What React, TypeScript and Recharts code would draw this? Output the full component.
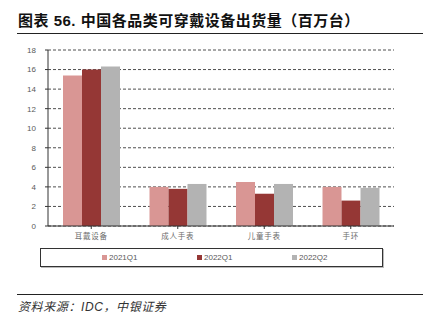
// Bar chart: China wearable shipments by category (million units).
// Flat Excel-style look: dashed black gridlines, boxed legend, CJK labels.
import { Bar, BarChart, CartesianGrid, XAxis, YAxis } from "recharts";

const CATEGORIES = ["耳戴设备", "成人手表", "儿童手表", "手环"];
const Q1_2021 = [15.4, 4.0, 4.5, 4.0];
const Q1_2022 = [16.0, 3.8, 3.3, 2.6];
const Q2_2022 = [16.3, 4.3, 4.3, 3.9];
const SERIES_NAMES = ["2021Q1", "2022Q1", "2022Q2"];
const Y_TICKS = [0, 2, 4, 6, 8, 10, 12, 14, 16, 18];

const COLORS = ["#D99694", "#953735", "#B3B3B3"];
const FONT = "'Liberation Sans', 'Noto Sans CJK SC', sans-serif";
const TICK_GREY = "#595959";

const rows = CATEGORIES.map((name, i) => ({
  name,
  a: Q1_2021[i],
  b: Q1_2022[i],
  c: Q2_2022[i],
}));

export default function App() {
  return (
    <div style={{ position: "relative", width: 431, height: 314, background: "#fff", fontFamily: FONT }}>
      <style>{`body{margin:0}`}</style>

      {/* title + rule */}
      <div style={{ position: "absolute", left: 18, top: 9, fontSize: 15, fontWeight: 700, color: "#111", letterSpacing: 0.5, whiteSpace: "nowrap" }}>
        图表 56. 中国各品类可穿戴设备出货量（百万台）
      </div>
      <div style={{ position: "absolute", left: 17, top: 33, width: 406, height: 1, background: "#222" }} />

      <div style={{ position: "absolute", left: 0, top: 0 }}>
        <BarChart
          width={431}
          height={314}
          data={rows}
          margin={{ top: 50, right: 37, bottom: 68, left: 8 }}
          barGap={0}
          barSize={19}
        >
          <CartesianGrid vertical={false} stroke="#222" strokeDasharray="3 2" strokeWidth={0.8} />
          <XAxis
            dataKey="name"
            height={20}
            stroke="#333"
            tickSize={3}
            tickMargin={5}
            tick={{ fill: "#6b6b6b", fontSize: 7.5, letterSpacing: 0.8 }}
            interval={0}
          />
          <YAxis
            width={40}
            domain={[0, 18]}
            ticks={Y_TICKS}
            stroke="#333"
            tickSize={3}
            tickMargin={9}
            tick={{ fill: TICK_GREY, fontSize: 8 }}
            interval={0}
          />
          <Bar dataKey="a" name={SERIES_NAMES[0]} fill={COLORS[0]} isAnimationActive={false} />
          <Bar dataKey="b" name={SERIES_NAMES[1]} fill={COLORS[1]} isAnimationActive={false} />
          <Bar dataKey="c" name={SERIES_NAMES[2]} fill={COLORS[2]} isAnimationActive={false} />
        </BarChart>
      </div>

      {/* boxed legend */}
      <div style={{ position: "absolute", left: 40, top: 248, width: 341, height: 17, border: "1px solid #333", boxShadow: "1px 1px 0 #bbb" }}>
        {SERIES_NAMES.map((s, i) => (
          <div key={s} style={{ position: "absolute", left: 61 + i * 95, top: 3, display: "flex", alignItems: "center", fontSize: 8, color: TICK_GREY, lineHeight: "11px" }}>
            <span style={{ display: "inline-block", width: 5, height: 5, background: COLORS[i], marginRight: 2 }} />
            {s}
          </div>
        ))}
      </div>

      {/* source rule + note */}
      <div style={{ position: "absolute", left: 17, top: 294, width: 406, height: 1, background: "#222" }} />
      <div style={{ position: "absolute", left: 18, top: 297, fontSize: 12, fontStyle: "italic", color: "#333", letterSpacing: 0.6, whiteSpace: "nowrap" }}>
        资料来源：IDC，中银证券
      </div>
    </div>
  );
}
